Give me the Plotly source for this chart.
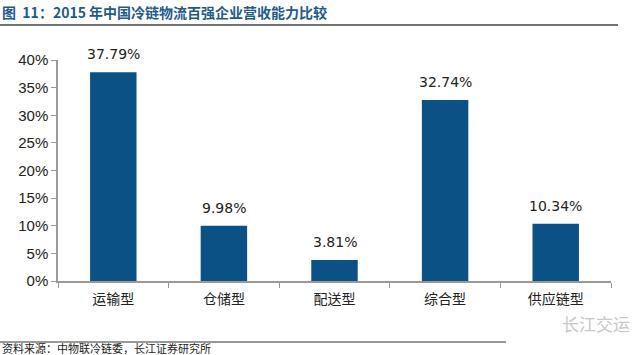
import plotly.graph_objects as go

categories = ["运输型", "仓储型", "配送型", "综合型", "供应链型"]
values = [37.79, 9.98, 3.81, 32.74, 10.34]
labels = ["37.79%", "9.98%", "3.81%", "32.74%", "10.34%"]
tick_vals = [0, 5, 10, 15, 20, 25, 30, 35, 40]
tick_text = ["0%", "5%", "10%", "15%", "20%", "25%", "30%", "35%", "40%"]

fig = go.Figure()
fig.add_trace(go.Bar(
    x=categories, y=values,
    marker=dict(color="#0B5185", line=dict(width=0)),
    cliponaxis=False,
))
for c, v, t in zip(categories, values, labels):
    fig.add_annotation(x=c, y=v, text=t, showarrow=False, yanchor="bottom", yshift=8,
                       font=dict(size=14, color="#222222", family="DejaVu Sans, sans-serif"))

W, H = 640, 355
ml, mr, mt, mb = 58, 29, 60, 74
PW, PH = W - ml - mr, H - mt - mb
fig.update_layout(
    width=W, height=H,
    margin=dict(l=ml, r=mr, t=mt, b=mb),
    paper_bgcolor="white", plot_bgcolor="white",
    bargap=0.58, showlegend=False,
    font=dict(family="Noto Sans CJK SC, sans-serif"),
)
fig.update_xaxes(
    showline=True, linecolor="#999999", linewidth=1.5,
    ticks="outside", tickcolor="#999999", ticklen=5,
    tickson="boundaries", ticklabelstandoff=4,
    tickfont=dict(size=14, color="#222222", family="Noto Sans CJK SC"),
    showgrid=False,
)
fig.update_yaxes(
    range=[0, 40], tickvals=tick_vals, ticktext=tick_text,
    showline=True, linecolor="#999999", linewidth=1.5,
    ticks="outside", tickcolor="#999999", ticklen=5,
    tickfont=dict(size=15, color="#222222", family="Liberation Sans, Arial, sans-serif"),
    showgrid=False, zeroline=False,
)

# Title
fig.add_annotation(
    text="<b>图  11：2015 年中国冷链物流百强企业营收能力比较</b>",
    xref="paper", yref="paper", x=-ml / PW, y=1 + (mt - 12) / PH,
    xanchor="left", yanchor="middle", showarrow=False,
    font=dict(size=14, color="#1F5A8C", family="Noto Sans CJK SC"),
)
# Title rule
fig.add_shape(type="line", xref="paper", yref="paper",
              x0=-ml / PW, x1=(618 - ml) / PW,
              y0=1 + (mt - 25) / PH, y1=1 + (mt - 25) / PH,
              line=dict(color="#444444", width=1.5))
# Bottom rule
fig.add_shape(type="line", xref="paper", yref="paper",
              x0=-ml / PW, x1=(506 - ml) / PW,
              y0=-(342 - (H - mb)) / PH, y1=-(342 - (H - mb)) / PH,
              line=dict(color="#333333", width=1))
# Source
fig.add_annotation(
    text="资料来源：中物联冷链委，长江证券研究所",
    xref="paper", yref="paper", x=-ml / PW, y=-(348 - (H - mb)) / PH,
    xanchor="left", yanchor="middle", showarrow=False,
    font=dict(size=11, color="#222222", family="Noto Sans CJK SC"),
)
# Watermark
fig.add_annotation(
    text="长江交运",
    xref="paper", yref="paper", x=(632 - ml) / PW, y=-(323 - (H - mb)) / PH,
    xanchor="right", yanchor="middle", showarrow=False,
    font=dict(size=17, color="#C8C8C8", family="Noto Sans CJK SC"),
)

fig.write_html("out.html")
